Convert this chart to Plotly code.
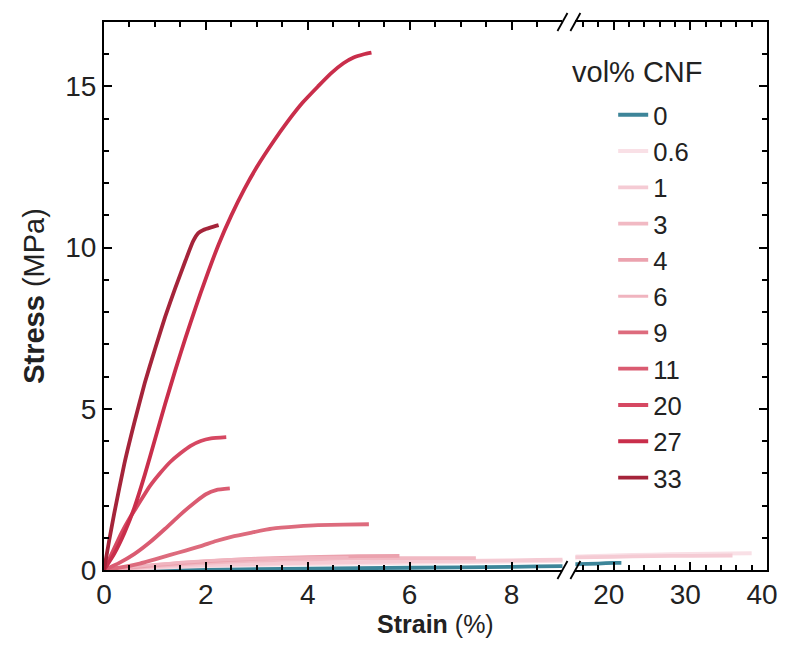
import plotly.graph_objects as go

# ---------------- data (strain %, stress MPa) ----------------
labels = ["0", "0.6", "1", "3", "4", "6", "9", "11", "20", "27", "33"]
colors = ["#3D8599", "#F9E0E6", "#F5CBD4", "#F1B9C3", "#EBA2AE", "#F0B4BF",
          "#DD6B7D", "#DA5B71", "#D64862", "#C92E4B", "#A5243A"]

strain_0 = [0, 2, 4, 6, 8, 9, 15.2, 18, 20, 21]
stress_0 = [0, 0.02, 0.04, 0.07, 0.10, 0.12, 0.18, 0.20, 0.22, 0.22]

strain_06 = [0, 1, 2, 4, 6, 9, 15.2, 20, 25, 30, 38]
stress_06 = [0, 0.07, 0.12, 0.18, 0.22, 0.28, 0.42, 0.45, 0.48, 0.50, 0.52]

strain_1 = [0, 1, 2, 4, 6, 8, 9, 15.2, 20, 25, 30, 35.5]
stress_1 = [0, 0.09, 0.15, 0.22, 0.27, 0.30, 0.32, 0.39, 0.41, 0.43, 0.44, 0.45]

strain_3 = [0, 1, 2, 3, 4, 5, 6, 7.3]
stress_3 = [0, 0.12, 0.22, 0.29, 0.33, 0.36, 0.37, 0.37]

strain_4 = [0, 1, 2, 3, 4, 5, 5.8]
stress_4 = [0, 0.15, 0.27, 0.35, 0.40, 0.43, 0.44]

strain_6 = [0, 1, 2, 3, 4, 4.8]
stress_6 = [0, 0.17, 0.29, 0.35, 0.38, 0.39]

strain_9 = [0, 0.3, 0.7, 1.0, 1.3, 1.6, 1.9, 2.2, 2.5, 2.9, 3.3, 3.8, 4.2, 4.7, 5.2]
stress_9 = [0, 0.07, 0.2, 0.33, 0.47, 0.6, 0.74, 0.9, 1.03, 1.16, 1.28, 1.35, 1.39, 1.41, 1.42]

strain_11 = [0, 0.3, 0.6, 0.9, 1.2, 1.5, 1.8, 2.0, 2.2, 2.47]
stress_11 = [0, 0.22, 0.5, 0.86, 1.28, 1.72, 2.12, 2.35, 2.48, 2.53]

strain_20 = [0, 0.15, 0.34, 0.5, 0.66, 0.9, 1.1, 1.3, 1.5, 1.7, 1.9, 2.1, 2.4]
stress_20 = [0, 0.5, 1.14, 1.6, 2.0, 2.6, 3.0, 3.35, 3.62, 3.85, 4.0, 4.08, 4.12]

strain_27 = [0, 0.2, 0.4, 0.6, 0.8, 1.0, 1.2, 1.4, 1.6, 1.8, 2.0, 2.25, 2.5, 2.75,
             3.0, 3.33, 3.6, 3.9, 4.2, 4.45, 4.7, 4.9, 5.1, 5.25]
stress_27 = [0, 0.5, 1.15, 1.95, 2.95, 4.05, 5.15, 6.2, 7.2, 8.15, 9.05, 10.1, 11.0, 11.8,
             12.5, 13.3, 13.9, 14.5, 15.0, 15.4, 15.72, 15.9, 16.0, 16.05]

strain_33 = [0, 0.1, 0.2, 0.4, 0.6, 0.8, 1.0, 1.2, 1.4, 1.6, 1.75, 1.85, 1.95, 2.1, 2.25]
stress_33 = [0, 0.9, 1.75, 3.3, 4.6, 5.8, 6.85, 7.85, 8.75, 9.6, 10.2, 10.45, 10.55, 10.63, 10.7]

series = [(strain_0, stress_0), (strain_06, stress_06), (strain_1, stress_1),
          (strain_3, stress_3), (strain_4, stress_4), (strain_6, stress_6),
          (strain_9, stress_9), (strain_11, stress_11), (strain_20, stress_20),
          (strain_27, stress_27), (strain_33, stress_33)]
widths = [3.8, 3.8, 3.8, 3.8, 3.8, 3.0, 3.8, 3.8, 3.8, 3.8, 3.8]

x_left_range = [0, 9]
x_right_range = [15, 40]
y_range = [0, 17]

FONT = "Liberation Sans, Arial, sans-serif"
TXT = "#222222"
D1 = 0.6915
D2 = 0.711

fig = go.Figure()
for lab, col, (sx, sy), w in zip(labels, colors, series, widths):
    fig.add_trace(go.Scatter(x=sx, y=sy, mode="lines", name=lab,
                             line=dict(color=col, width=w, shape="spline", smoothing=0.5),
                             legendgroup=lab, showlegend=True,
                             xaxis="x", yaxis="y"))
    fig.add_trace(go.Scatter(x=sx, y=sy, mode="lines", name=lab,
                             line=dict(color=col, width=w, shape="spline", smoothing=0.5),
                             legendgroup=lab, showlegend=False,
                             xaxis="x2", yaxis="y2"))

axis_common = dict(showline=True, linecolor="black", linewidth=2, ticks="inside",
                   ticklen=8, tickwidth=2, tickcolor="black", showgrid=False,
                   zeroline=False, tickfont=dict(family=FONT, size=28, color=TXT))
minor_common = dict(ticks="inside", ticklen=5, tickwidth=1.5, tickcolor="black")

# page keeps its default 8px body margin, so the figure is 16px smaller than the window
fig.update_layout(
    width=782, height=632,
    margin=dict(l=96, r=12, t=14, b=70),
    paper_bgcolor="white", plot_bgcolor="white",
    font=dict(family=FONT, size=26, color=TXT),
    xaxis=dict(domain=[0, D1], range=x_left_range, dtick=2, tick0=0, anchor="y",
               mirror="ticks", ticklabelstandoff=-2,
               minor=dict(dtick=0.5, **minor_common), **axis_common),
    xaxis2=dict(domain=[D2, 1], range=x_right_range, dtick=10, tick0=0, anchor="y2",
                mirror="ticks", ticklabelshift=-5, ticklabelstandoff=-2,
                minor=dict(dtick=2, **minor_common), **axis_common),
    yaxis=dict(range=y_range, dtick=5, tick0=0, anchor="x",
               title=dict(text="<b>Stress</b> (MPa)", font=dict(family=FONT, size=29, color=TXT),
                          standoff=12),
               minor=dict(dtick=1, **minor_common), **axis_common),
    yaxis2=dict(range=y_range, dtick=5, tick0=0, anchor="x2", side="right", matches="y",
                showticklabels=False, minor=dict(dtick=1, **minor_common), **axis_common),
    legend=dict(x=0.768, y=0.873, xanchor="left", yanchor="top",
                font=dict(family=FONT, size=25.6, color=TXT),
                bgcolor="rgba(0,0,0,0)", tracegroupgap=0, itemwidth=30),
    annotations=[
        dict(text="<b>Strain</b> (%)", xref="paper", yref="paper",
             x=0.5, y=0, yanchor="bottom", yshift=-70, showarrow=False,
             font=dict(family=FONT, size=25, color=TXT)),
        dict(text="vol% CNF", xref="paper", yref="paper",
             x=0.703, y=0.909, xanchor="left", yanchor="middle", showarrow=False,
             font=dict(family=FONT, size=29, color=TXT)),
    ],
)

# axis-break marks
for xa in (D1, D2):
    for ya in (0, 1):
        fig.add_shape(type="line", xref="paper", yref="paper",
                      xsizemode="pixel", ysizemode="pixel",
                      xanchor=xa, yanchor=ya, x0=-5, x1=5, y0=-9, y1=9,
                      line=dict(color="black", width=1.8))

fig.write_html("out.html", config={"displayModeBar": False})
